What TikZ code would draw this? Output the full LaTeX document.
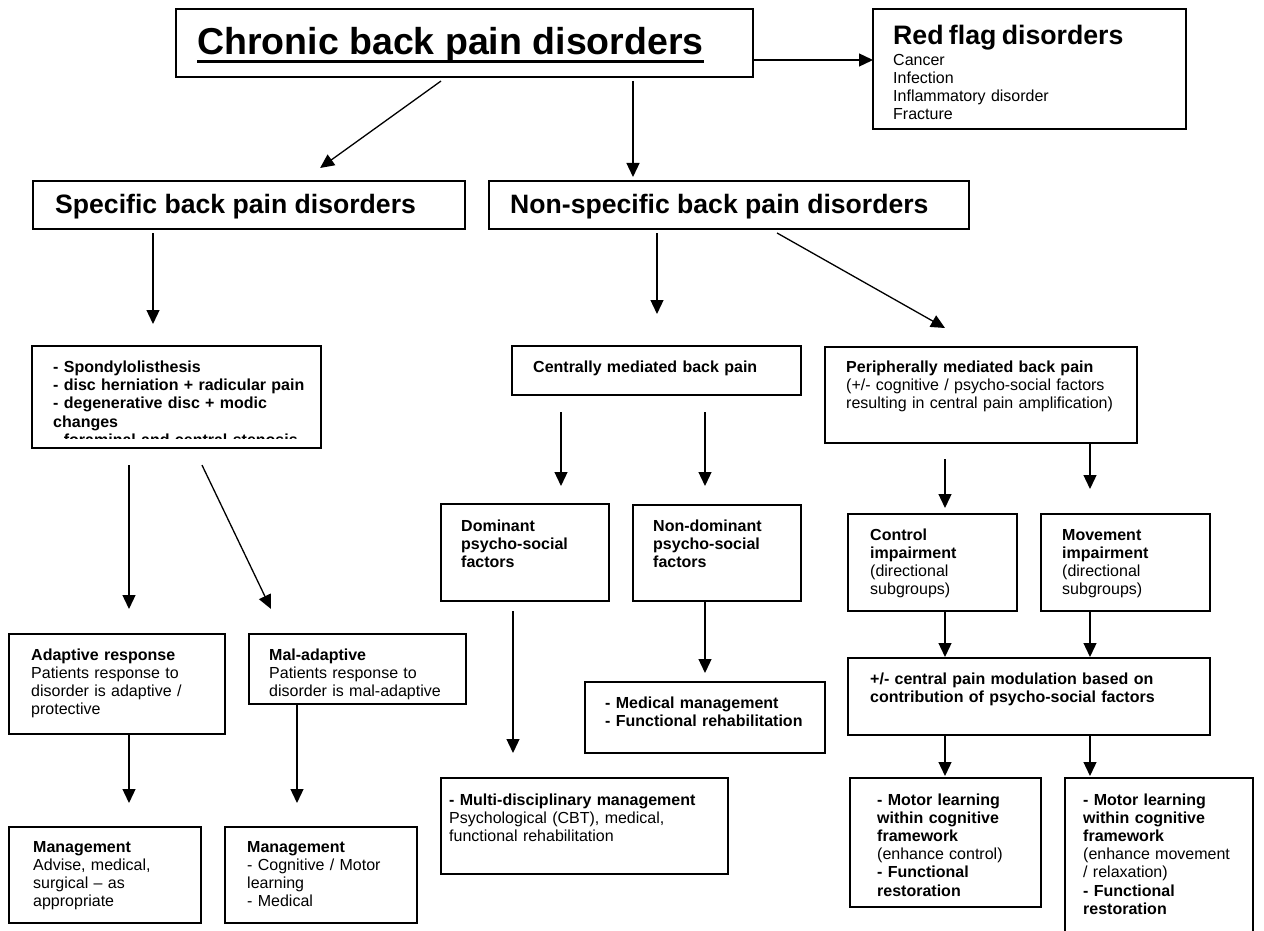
\documentclass[tikz,border=0pt]{standalone}
\usepackage{fontspec}
\setmainfont{Liberation Sans}
\usetikzlibrary{arrows.meta}

\tikzset{
  box/.style={draw, line width=1.8pt, anchor=north west, inner sep=0pt, outer sep=0pt},
  txt/.style={anchor=base west, inner sep=0pt, text width=400pt, align=left,
    font=\fontsize{16}{18.1}\selectfont},
  head/.style={anchor=base west, inner sep=0pt, font=\fontsize{26.6}{30}\selectfont\bfseries},
  arr/.style={-{Triangle[length=14pt,width=13pt]}, line width=1.3pt},
}

\begin{document}
\begin{tikzpicture}[x=1pt,y=-1pt]
\useasboundingbox (0,0) rectangle (1264,931);

\node[box,minimum width=577pt,minimum height=68pt] (title) at (176,9) {};
\node[box,minimum width=313pt,minimum height=120pt] (red) at (873,9) {};
\node[box,minimum width=432pt,minimum height=48pt] (spec) at (33,181) {};
\node[box,minimum width=480pt,minimum height=48pt] (nonspec) at (489,181) {};
\node[box,minimum width=289pt,minimum height=102pt] (list) at (32,346) {};
\node[box,minimum width=289pt,minimum height=49pt] (central) at (512,346) {};
\node[box,minimum width=312pt,minimum height=96pt] (periph) at (825,347) {};
\node[box,minimum width=168pt,minimum height=97pt] (dominant) at (441,504) {};
\node[box,minimum width=168pt,minimum height=96pt] (nondom) at (633,505) {};
\node[box,minimum width=169pt,minimum height=97pt] (control) at (848,514) {};
\node[box,minimum width=169pt,minimum height=97pt] (movement) at (1041,514) {};
\node[box,minimum width=216pt,minimum height=100pt] (adaptive) at (9,634) {};
\node[box,minimum width=217pt,minimum height=70pt] (maladapt) at (249,634) {};
\node[box,minimum width=240pt,minimum height=71pt] (medical) at (585,682) {};
\node[box,minimum width=362pt,minimum height=77pt] (modulation) at (848,658) {};
\node[box,minimum width=287pt,minimum height=96pt] (multi) at (441,778) {};
\node[box,minimum width=192pt,minimum height=96pt] (mgmtA) at (9,827) {};
\node[box,minimum width=192pt,minimum height=96pt] (mgmtB) at (225,827) {};
\node[box,minimum width=191pt,minimum height=129pt] (motorA) at (850,778) {};
\node[box,minimum width=188pt,minimum height=160pt] (motorB) at (1065,778) {};

\node[anchor=base west,inner sep=0pt,font=\fontsize{37.5}{40}\selectfont\bfseries] (titletxt) at (197,55) {Chronic back pain disorders};
\draw[line width=3.3pt] ([yshift=-6.3pt]titletxt.base west) -- ([yshift=-6.3pt]titletxt.base east);
\node[txt] (redtxt) at (893,45) {{\fontsize{26.7}{30}\selectfont\bfseries Red flag disorders}\\[2pt]Cancer\\Infection\\Inflammatory disorder\\Fracture};
\node[head] (spectxt) at (55,213) {Specific back pain disorders};
\node[head] (nonspectxt) at (510,213) {Non-specific back pain disorders};
\begin{scope}
\clip (32,346) rectangle (321,438.3);
\node[txt,font=\fontsize{16}{18.1}\selectfont\bfseries] (listtxt) at (53,372.7) {- Spondylolisthesis\\- disc herniation + radicular pain\\- degenerative disc + modic\\changes\\- foraminal and central stenosis};
\end{scope}
\node[txt] (centraltxt) at (533,372.7) {\textbf{Centrally mediated back pain}};
\node[txt] (periphtxt) at (846,372.7) {\textbf{Peripherally mediated back pain}\\(+/- cognitive / psycho-social factors\\resulting in central pain amplification)};
\node[txt] (domtxt) at (461,531.7) {\textbf{Dominant}\\\textbf{psycho-social}\\\textbf{factors}};
\node[txt] (nondomtxt) at (653,531.7) {\textbf{Non-dominant}\\\textbf{psycho-social}\\\textbf{factors}};
\node[txt] (controltxt) at (870,540.5) {\textbf{Control}\\\textbf{impairment}\\(directional\\subgroups)};
\node[txt] (movetxt) at (1062,540.5) {\textbf{Movement}\\\textbf{impairment}\\(directional\\subgroups)};
\node[txt] (adapttxt) at (31,660) {\textbf{Adaptive response}\\Patients response to\\disorder is adaptive /\\protective};
\node[txt] (maltxt) at (269,660) {\textbf{Mal-adaptive}\\Patients response to\\disorder is mal-adaptive};
\node[txt] (medtxt) at (605,708.5) {\textbf{- Medical management}\\\textbf{- Functional rehabilitation}};
\node[txt] (modtxt) at (870,684.5) {\textbf{+/- central pain modulation based on}\\\textbf{contribution of psycho-social factors}};
\node[txt] (multitxt) at (449,805.5) {\textbf{- Multi-disciplinary management}\\Psychological (CBT), medical,\\functional rehabilitation};
\node[txt] (mgmtAtxt) at (33,852.5) {\textbf{Management}\\Advise, medical,\\surgical \textendash{} as\\appropriate};
\node[txt] (mgmtBtxt) at (247,852.5) {\textbf{Management}\\- Cognitive / Motor\\learning\\- Medical};
\node[txt] (motorAtxt) at (877,805.5) {\textbf{- Motor learning}\\\textbf{within cognitive}\\\textbf{framework}\\(enhance control)\\\textbf{- Functional}\\\textbf{restoration}};
\node[txt] (motorBtxt) at (1083,805.5) {\textbf{- Motor learning}\\\textbf{within cognitive}\\\textbf{framework}\\(enhance movement\\/ relaxation)\\\textbf{- Functional}\\\textbf{restoration}};

\draw[arr,shorten <=6.9pt,shorten >=22.3pt] ([xshift=270.6pt]title.south west) -- ([xshift=269pt]spec.north west);
\draw[arr,shorten <=4pt,shorten >=4pt] ([xshift=457pt]title.south west) -- ([xshift=144pt]nonspec.north west);
\draw[arr] ([yshift=-17pt]title.east) -- ([yshift=9pt]red.west);
\draw[arr,shorten <=4pt,shorten >=22pt] ([xshift=120pt]spec.south west) -- ([xshift=121pt]list.north west);
\draw[arr,shorten <=4pt,shorten >=32pt] ([xshift=168pt]nonspec.south west) -- ([xshift=145pt]central.north west);
\draw[arr,shorten <=8.1pt,shorten >=38.6pt] ([xshift=281pt]nonspec.south west) -- ([xshift=153.6pt]periph.north west);
\draw[arr,shorten <=17pt,shorten >=25pt] ([xshift=97pt]list.south west) -- ([xshift=120pt]adaptive.north west);
\draw[arr,shorten <=18.9pt,shorten >=27.8pt] ([xshift=161.8pt]list.south west) -- ([xshift=34pt]maladapt.north west);
\draw[arr,shorten <=17pt,shorten >=18pt] ([xshift=49pt]central.south west) -- ([xshift=120pt]dominant.north west);
\draw[arr,shorten <=17pt,shorten >=19pt] ([xshift=193pt]central.south west) -- ([xshift=72pt]nondom.north west);
\draw[arr,shorten <=16pt,shorten >=6pt] ([xshift=120pt]periph.south west) -- ([xshift=97pt]control.north west);
\draw[arr,shorten >=25pt] ([xshift=265pt]periph.south west) -- ([xshift=49pt]movement.north west);
\draw[arr,shorten <=10pt,shorten >=25pt] ([xshift=72pt]dominant.south west) -- ([xshift=72pt]multi.north west);
\draw[arr,shorten >=9pt] ([xshift=72pt]nondom.south west) -- ([xshift=120pt]medical.north west);
\draw[arr,shorten >=1pt] ([xshift=97pt]control.south west) -- ([xshift=97pt]modulation.north west);
\draw[arr,shorten >=1pt] ([xshift=49pt]movement.south west) -- ([xshift=242pt]modulation.north west);
\draw[arr,shorten >=24pt] ([xshift=120pt]adaptive.south west) -- ([xshift=120pt]mgmtA.north west);
\draw[arr,shorten >=24pt] ([xshift=48pt]maladapt.south west) -- ([xshift=72pt]mgmtB.north west);
\draw[arr,shorten >=2pt] ([xshift=97pt]modulation.south west) -- ([xshift=95pt]motorA.north west);
\draw[arr,shorten >=2pt] ([xshift=242pt]modulation.south west) -- ([xshift=25pt]motorB.north west);
\end{tikzpicture}
\end{document}
